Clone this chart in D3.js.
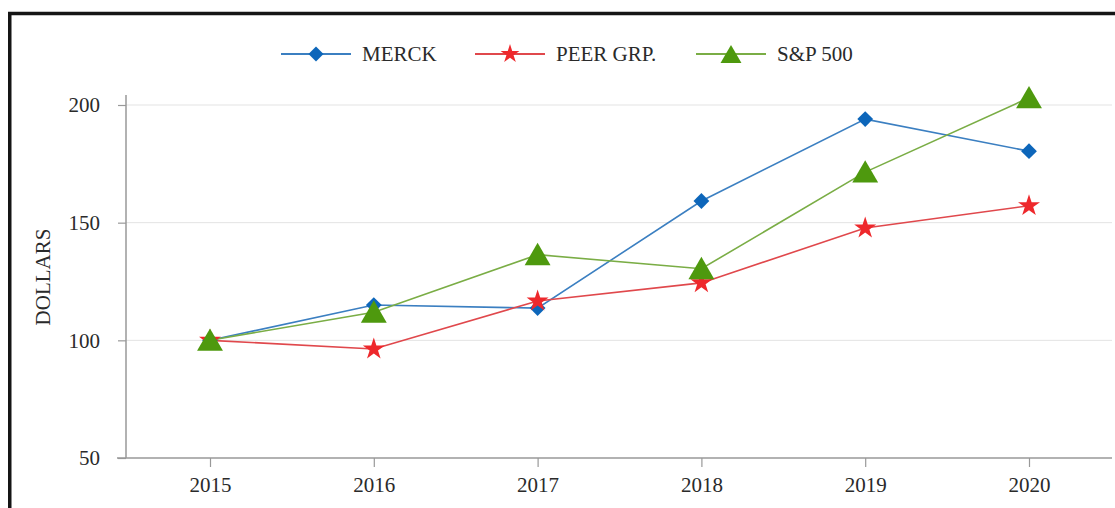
<!DOCTYPE html>
<html><head><meta charset="utf-8">
<script src="https://cdn.jsdelivr.net/npm/d3@7"></script>
<style>html,body{margin:0;padding:0;background:#fff;}svg{display:block;}</style>
</head><body>
<svg id="c" width="1115" height="508"></svg>
<script>
const years = ["2015","2016","2017","2018","2019","2020"];
const merck = [100, 115.0, 113.7, 159.2, 194.0, 180.4];
const peer = [100, 96.3, 116.7, 124.4, 147.7, 157.2];
const sp500 = [100, 111.96, 136.40, 130.42, 171.49, 203.04];
const yTicks = [50, 100, 150, 200];
const seriesNames = ["MERCK", "PEER GRP.", "S&P 500"];

const series = [
  {name: seriesNames[0], values: merck, line: "#3b7fc1", fill: "#0d66ba", sym: d3.symbolSquare, size: 125, rot: 45, lsize: 112, dy: 0},
  {name: seriesNames[1], values: peer, line: "#e0484c", fill: "#ee282c", sym: d3.symbolStar, size: 150, rot: 0, lsize: 110, dy: 0},
  {name: seriesNames[2], values: sp500, line: "#7aad45", fill: "#4e990e", sym: d3.symbolTriangle, size: 290, rot: 0, lsize: 190, dy: 3}
];

const svg = d3.select("#c");
const font = "'Liberation Serif', 'Times New Roman', serif";
const txt = "#2a2a2a";

// frame
svg.append("rect").attr("x", 9.75).attr("y", 13.5).attr("width", 1300).attr("height", 700)
  .attr("fill", "none").attr("stroke", "#151515").attr("stroke-width", 3.5);

const x = d3.scalePoint().domain(years).range([210, 1029]);
const y = d3.scaleLinear().domain([50, 200]).range([458, 105]);
const left = 126, right = 1112;

// gridlines
svg.append("g").selectAll("line").data(yTicks.filter(t => t > 50)).join("line")
  .attr("x1", left).attr("x2", right).attr("y1", d => y(d)).attr("y2", d => y(d))
  .attr("stroke", "#e3e3e3").attr("stroke-width", 1);

// y axis
const gy = svg.append("g").attr("transform", `translate(${left},0)`)
  .call(d3.axisLeft(y).tickValues(yTicks).tickSize(8).tickPadding(18).tickSizeOuter(0));
gy.select(".domain").remove();
gy.append("line").attr("x1", 0).attr("x2", 0).attr("y1", 95).attr("y2", y(50)).attr("stroke", "#999").attr("stroke-width", 1.5);
gy.selectAll(".tick line").attr("stroke", "#999").attr("stroke-width", 1.2);
gy.selectAll(".tick text").attr("font-family", font).attr("font-size", 21).attr("fill", txt);

// x axis
const gx = svg.append("g").attr("transform", `translate(0,${y(50)})`)
  .call(d3.axisBottom(x).tickSize(9).tickPadding(10).tickSizeOuter(0));
gx.select(".domain").remove();
gx.append("line").attr("x1", 117).attr("x2", right).attr("y1", 0).attr("y2", 0).attr("stroke", "#999").attr("stroke-width", 1.5);
gx.selectAll(".tick line").attr("stroke", "#999").attr("stroke-width", 1.2);
gx.selectAll(".tick text").attr("font-family", font).attr("font-size", 21).attr("fill", txt);

// y label
svg.append("text").attr("transform", "translate(50,277) rotate(-90)")
  .attr("text-anchor", "middle").attr("font-family", font).attr("font-size", 21).attr("fill", txt)
  .text("DOLLARS");

// lines
const line = d3.line().x((d, i) => x(years[i])).y(d => y(d));
series.forEach(s => {
  svg.append("path").datum(s.values).attr("d", line).attr("fill", "none")
    .attr("stroke", s.line).attr("stroke-width", 1.6);
});
series.forEach(s => {
  svg.append("g").selectAll("path").data(s.values).join("path")
    .attr("d", d3.symbol(s.sym, s.size))
    .attr("transform", (d, i) => `translate(${x(years[i])},${y(d) + s.dy}) rotate(${s.rot})`)
    .attr("fill", s.fill);
});

// legend
const legX = [281, 475, 696];
const legY = 54;
series.forEach((s, i) => {
  const g = svg.append("g").attr("transform", `translate(${legX[i]},${legY})`);
  g.append("line").attr("x1", 0).attr("x2", 70).attr("y1", 0).attr("y2", 0).attr("stroke", s.line).attr("stroke-width", 1.8);
  g.append("path").attr("d", d3.symbol(s.sym, s.lsize)).attr("transform", `translate(35,${s.dy}) rotate(${s.rot})`).attr("fill", s.fill);
  g.append("text").attr("x", 81).attr("y", 7).attr("font-family", font).attr("font-size", 21).attr("fill", txt).text(s.name);
});
</script>
</body></html>
